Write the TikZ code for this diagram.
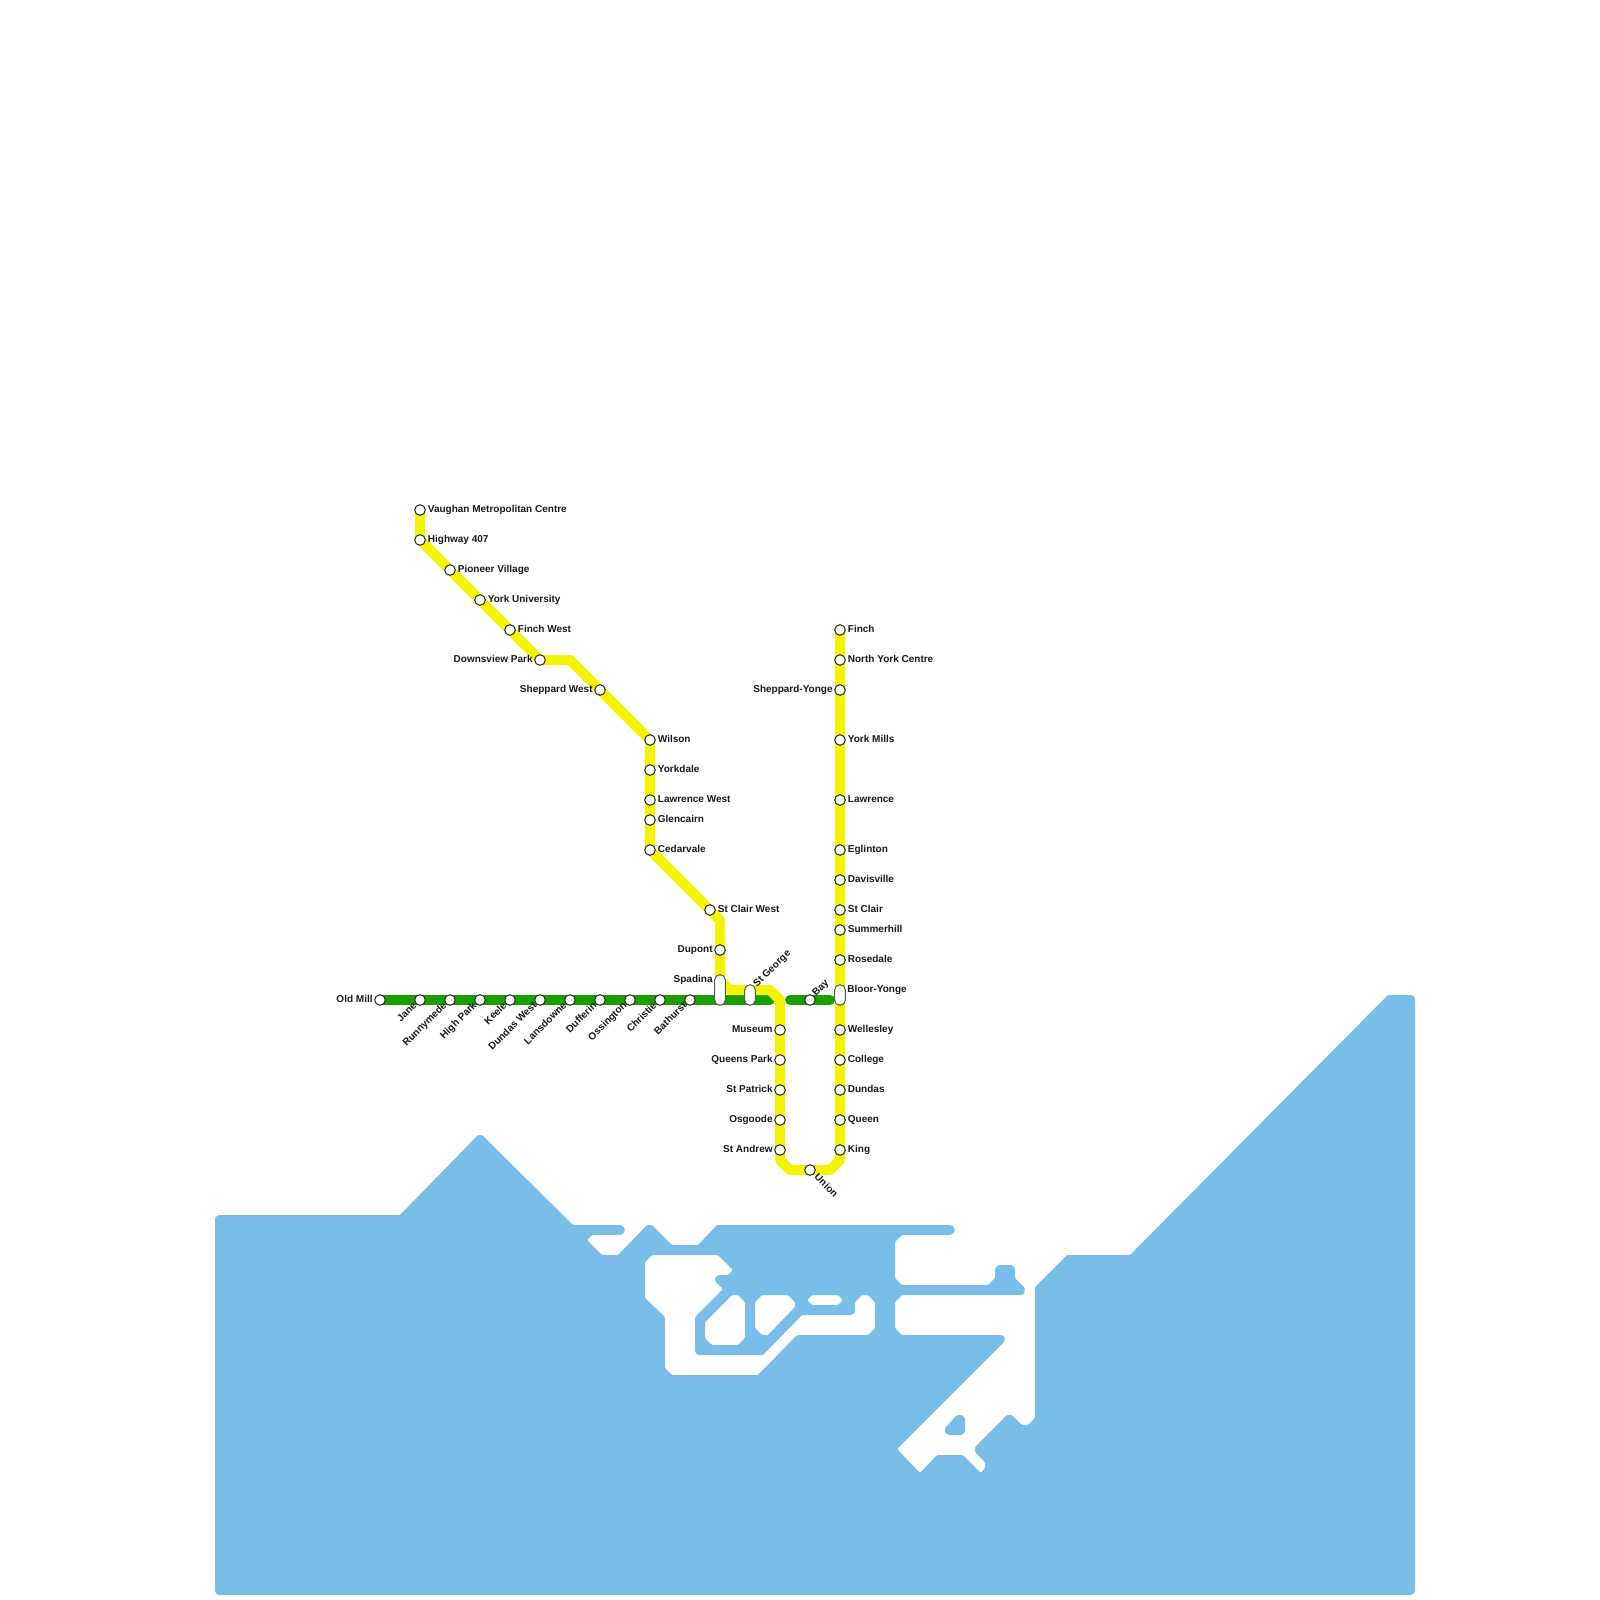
\documentclass[tikz,border=0pt]{standalone}
\usepackage{fontspec}
\setmainfont{Liberation Sans}
\usepackage{xcolor}
\usepackage{tikz}
\usetikzlibrary{positioning,calc}
\definecolor{water}{HTML}{79BDE9}
\definecolor{lineyellow}{HTML}{F3F500}
\definecolor{linegreen}{HTML}{1B9E00}

\begin{document}
\begin{tikzpicture}[
  x=0.5pt,y=-0.5pt,
  font=\bfseries\fontsize{5}{6}\selectfont,
  node distance=0.85pt,
  track/.style={line width=5pt,line join=bevel},
  stn/.style={circle,draw=black!85,line width=0.5pt,fill=white,minimum size=5.3pt,inner sep=0pt},
  pill/.style={rectangle,rounded corners=2.6pt,draw=black!65,line width=0.5pt,fill=white,minimum width=5.3pt,inner sep=0pt},
  lbl/.style={text=black!90,inner sep=0pt,text height=3.7pt,text depth=1pt},
  dlbl/.style={lbl,rotate=45,anchor=east},
]
\useasboundingbox (0,0) rectangle (1600,1600);

% Lake and harbour
\fill[water,even odd rule,rounded corners=0.6pt]
  (215,1218) -- (218,1215) -- (400,1215) -- (478,1135) -- (482,1135) -- (573,1225) -- (620,1225)
  -- (623.5,1226.5) -- (625,1230) -- (623.5,1233.5) -- (620,1235) -- (592,1235) -- (587,1240) -- (602,1255) -- (618,1255)
  -- (647,1225) -- (652,1225) -- (672,1245) -- (698,1245) -- (717,1225) -- (950,1225)
  -- (953.5,1226.5) -- (955,1230) -- (953.5,1233.5) -- (950,1235) -- (902,1235) -- (895,1242) -- (895,1278) -- (902,1285)
  -- (988,1285) -- (995,1278) -- (995,1268) -- (998,1265) -- (1012,1265) -- (1015,1268) -- (1015,1278) -- (1024,1287)
  -- (1025,1290) -- (1024,1294) -- (1021,1295) -- (902,1295) -- (895,1302) -- (895,1328) -- (902,1335) -- (1001,1335)
  -- (1004,1336) -- (1005,1339) -- (1004,1342) -- (897,1449) -- (920,1473) -- (937,1455) -- (963,1455) -- (981,1473)
  -- (985,1468) -- (985,1462) -- (975,1452) -- (975,1447) -- (1007,1415) -- (1012,1415)
  -- (1022,1425) -- (1028,1425) -- (1035,1418) -- (1035,1287) -- (1067,1255) -- (1130,1255)
  -- (1388,995) -- (1412,995) -- (1415,998) -- (1415,1592) -- (1412,1595) -- (218,1595) -- (215,1592) -- cycle
  (652,1255) -- (718,1255) -- (733,1270) -- (728,1275) -- (718,1275) -- (715,1278) -- (715,1281)
  -- (723,1289) -- (695,1317) -- (695,1352) -- (698,1355) -- (763,1355) -- (802,1315) -- (852,1315)
  -- (855,1312) -- (855,1302) -- (862,1295) -- (868,1295) -- (875,1302) -- (875,1328)
  -- (868,1335) -- (797,1335) -- (758,1375) -- (672,1375) -- (665,1368) -- (665,1317)
  -- (645,1298) -- (645,1262) -- cycle
  (732,1295) -- (738,1295) -- (745,1302) -- (745,1338) -- (738,1345) -- (712,1345)
  -- (705,1338) -- (705,1322) -- cycle
  (762,1295) -- (788,1295) -- (795,1302) -- (795,1307) -- (768,1335) -- (762,1335)
  -- (755,1328) -- (755,1302) -- cycle
  (812,1295) -- (838,1295) -- (843,1300) -- (838,1305) -- (812,1305) -- (807,1300) -- cycle
  (957,1415) -- (962,1415) -- (965,1418) -- (965,1432) -- (962,1435) -- (948,1435) -- (945,1432) -- (945,1428) -- cycle;

% Bloor line
\draw[track,linegreen,line cap=round] (380,1000) -- (770,1000);
\draw[track,linegreen,line cap=round] (790,1000) -- (830,1000);

% Yonge-University line
\draw[track,lineyellow] (420,510) -- (420,540) -- (540,660) -- (570,660) -- (650,740)
  -- (650,850) -- (710,910) -- (720,920) -- (720,980) -- (730,990) -- (770,990)
  -- (780,1000) -- (780,1160) -- (790,1170) -- (830,1170) -- (840,1160) -- (840,630);

% Stations, north-west branch
\node[stn] (vaughan) at (420,510) {};
\node[stn] (highway) at (420,540) {};
\node[stn] (pioneer) at (450,570) {};
\node[stn] (yorku) at (480,600) {};
\node[stn] (finchw) at (510,630) {};
\node[stn] (downsview) at (540,660) {};
\node[stn] (sheppardw) at (600,690) {};
\node[stn] (wilson) at (650,740) {};
\node[stn] (yorkdale) at (650,770) {};
\node[stn] (lawrencew) at (650,800) {};
\node[stn] (glencairn) at (650,820) {};
\node[stn] (cedarvale) at (650,850) {};
\node[stn] (stclairw) at (710,910) {};
\node[stn] (dupont) at (720,950) {};
\node[pill,minimum height=15.3pt] (spadina) at (720,990) {};
\node[pill,minimum height=10.3pt] (stgeorge) at (750,995) {};

% Stations, university side
\node[stn] (museum) at (780,1030) {};
\node[stn] (queenspark) at (780,1060) {};
\node[stn] (stpatrick) at (780,1090) {};
\node[stn] (osgoode) at (780,1120) {};
\node[stn] (standrew) at (780,1150) {};
\node[stn] (union) at (810,1170) {};

% Stations, yonge side
\node[stn] (finch) at (840,630) {};
\node[stn] (northyork) at (840,660) {};
\node[stn] (sheppardy) at (840,690) {};
\node[stn] (yorkmills) at (840,740) {};
\node[stn] (lawrence) at (840,800) {};
\node[stn] (eglinton) at (840,850) {};
\node[stn] (davisville) at (840,880) {};
\node[stn] (stclair) at (840,910) {};
\node[stn] (summerhill) at (840,930) {};
\node[stn] (rosedale) at (840,960) {};
\node[pill,minimum height=10.3pt] (bloor) at (840,995) {};
\node[stn] (wellesley) at (840,1030) {};
\node[stn] (college) at (840,1060) {};
\node[stn] (dundas) at (840,1090) {};
\node[stn] (queen) at (840,1120) {};
\node[stn] (king) at (840,1150) {};

% Stations, bloor line
\node[stn] (oldmill) at (380,1000) {};
\node[stn] (jane) at (420,1000) {};
\node[stn] (runnymede) at (450,1000) {};
\node[stn] (highpark) at (480,1000) {};
\node[stn] (keele) at (510,1000) {};
\node[stn] (dundasw) at (540,1000) {};
\node[stn] (lansdowne) at (570,1000) {};
\node[stn] (dufferin) at (600,1000) {};
\node[stn] (ossington) at (630,1000) {};
\node[stn] (christie) at (660,1000) {};
\node[stn] (bathurst) at (690,1000) {};
\node[stn] (bay) at (810,1000) {};

% Labels
\node[lbl,right=of vaughan] (vaughanlbl) {Vaughan Metropolitan Centre};
\node[lbl,right=of highway] (highwaylbl) {Highway 407};
\node[lbl,right=of pioneer] (pioneerlbl) {Pioneer Village};
\node[lbl,right=of yorku] (yorkulbl) {York University};
\node[lbl,right=of finchw] (finchwlbl) {Finch West};
\node[lbl,left=0.6pt of downsview] (downsviewlbl) {Downsview Park};
\node[lbl,left=0.6pt of sheppardw] (sheppardwlbl) {Sheppard West};
\node[lbl,right=of wilson] (wilsonlbl) {Wilson};
\node[lbl,right=of yorkdale] (yorkdalelbl) {Yorkdale};
\node[lbl,right=of lawrencew] (lawrencewlbl) {Lawrence West};
\node[lbl,right=of glencairn] (glencairnlbl) {Glencairn};
\node[lbl,right=of cedarvale] (cedarvalelbl) {Cedarvale};
\node[lbl,right=of stclairw] (stclairwlbl) {St Clair West};
\node[lbl,left=0.6pt of dupont] (dupontlbl) {Dupont};
\node[lbl,anchor=east] (spadinalbl) at (713,980) {Spadina};
\node[lbl,rotate=45,anchor=west] (stgeorgelbl) at (755,986) {St George};
\node[lbl,left=0.6pt of museum] (museumlbl) {Museum};
\node[lbl,left=0.6pt of queenspark] (queensparklbl) {Queens Park};
\node[lbl,left=0.6pt of stpatrick] (stpatricklbl) {St Patrick};
\node[lbl,left=0.6pt of osgoode] (osgoodelbl) {Osgoode};
\node[lbl,left=0.6pt of standrew] (standrewlbl) {St Andrew};
\node[lbl,rotate=-45,anchor=west] (unionlbl) at ($(union)+(5.5,5.5)$) {Union};
\node[lbl,right=of finch] (finchlbl) {Finch};
\node[lbl,right=of northyork] (northyorklbl) {North York Centre};
\node[lbl,left=0.6pt of sheppardy] (sheppardylbl) {Sheppard-Yonge};
\node[lbl,right=of yorkmills] (yorkmillslbl) {York Mills};
\node[lbl,right=of lawrence] (lawrencelbl) {Lawrence};
\node[lbl,right=of eglinton] (eglintonlbl) {Eglinton};
\node[lbl,right=of davisville] (davisvillelbl) {Davisville};
\node[lbl,right=of stclair] (stclairlbl) {St Clair};
\node[lbl,right=of summerhill] (summerhilllbl) {Summerhill};
\node[lbl,right=of rosedale] (rosedalelbl) {Rosedale};
\node[lbl,anchor=west] (bloorlbl) at (847,990) {Bloor-Yonge};
\node[lbl,right=of wellesley] (wellesleylbl) {Wellesley};
\node[lbl,right=of college] (collegelbl) {College};
\node[lbl,right=of dundas] (dundaslbl) {Dundas};
\node[lbl,right=of queen] (queenlbl) {Queen};
\node[lbl,right=of king] (kinglbl) {King};
\node[lbl,left=0.6pt of oldmill] (oldmilllbl) {Old Mill};
\node[dlbl] (janelbl) at ($(jane)+(-4.5,4)$) {Jane};
\node[dlbl] (runnymedelbl) at ($(runnymede)+(-4.5,4)$) {Runnymede};
\node[dlbl] (highparklbl) at ($(highpark)+(-4.5,4)$) {High Park};
\node[dlbl] (keelelbl) at ($(keele)+(-4.5,4)$) {Keele};
\node[dlbl] (dundaswlbl) at ($(dundasw)+(-4.5,4)$) {Dundas West};
\node[dlbl] (lansdownelbl) at ($(lansdowne)+(-4.5,4)$) {Lansdowne};
\node[dlbl] (dufferinlbl) at ($(dufferin)+(-4.5,4)$) {Dufferin};
\node[dlbl] (ossingtonlbl) at ($(ossington)+(-4.5,4)$) {Ossington};
\node[dlbl] (christielbl) at ($(christie)+(-4.5,4)$) {Christie};
\node[dlbl] (bathurstlbl) at ($(bathurst)+(-4.5,4)$) {Bathurst};
\node[lbl,rotate=45,anchor=west] (baylbl) at ($(bay)+(4,-5)$) {Bay};
\end{tikzpicture}
\end{document}
